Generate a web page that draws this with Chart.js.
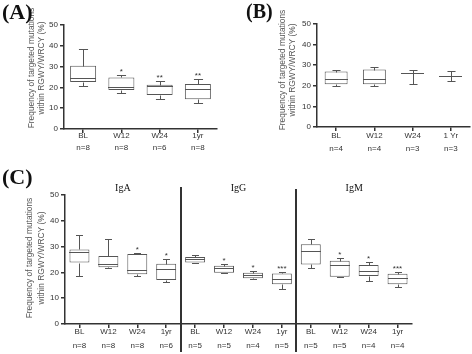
<!DOCTYPE html>
<html>
<head>
<meta charset="utf-8">
<script src="https://cdn.jsdelivr.net/npm/chart.js@4.4.1/dist/chart.umd.min.js"></script>
<style>
  body { margin: 0; background: #fff; }
  #wrap { position: relative; width: 472px; height: 354px; overflow: hidden; background: #fff; }
  #wrap canvas { position: absolute; }
  .panel { position: absolute; font-family: "Liberation Serif", "Times New Roman", serif; font-weight: bold; color: #111; line-height: 1; }
</style>
</head>
<body>
<div id="wrap">
  <canvas id="chart-a" width="240" height="175" style="left:0;top:0"></canvas>
  <canvas id="chart-b" width="232" height="175" style="left:240px;top:0"></canvas>
  <canvas id="chart-c" width="472" height="179" style="left:0;top:175px"></canvas>
  <div class="panel" style="left:2px;top:1px;font-size:22px">(A)</div>
  <div class="panel" style="left:246px;top:1px;font-size:20px">(B)</div>
  <div class="panel" style="left:2px;top:166px;font-size:22px">(C)</div>
</div>
<script>
// panel A
const timepointsA = ['BL', 'W12', 'W24', '1yr'];
const countsA = ['n=8', 'n=8', 'n=6', 'n=8'];
const minA = [20.8, 17.5, 14.6, 12.3];
const q1A = [22.6, 18.8, 16.3, 14.3];
const medianA = [24.4, 20.4, 20.7, 19.2];
const q3A = [30.4, 24.8, 21.3, 21.6];
const maxA = [38.5, 25.8, 22.9, 24.2];
const sigA = ['', '*', '**', '**'];

// panel B
const timepointsB = ['BL', 'W12', 'W24', '1 Yr'];
const countsB = ['n=4', 'n=4', 'n=3', 'n=3'];
const minB = [20.1, 20.1, 21.1, 22.1];
const q1B = [20.8, 20.8, 26.4, 25.0];
const medianB = [23.1, 23.4, 26.4, 25.0];
const q3B = [26.9, 27.9, 26.4, 25.0];
const maxB = [27.9, 28.9, 27.9, 27.3];
const sigB = ['', '', '', ''];

// panel C
const isotypesC = ['IgA', 'IgG', 'IgM'];
const timepointsC = ['BL', 'W12', 'W24', '1yr', 'BL', 'W12', 'W24', '1yr', 'BL', 'W12', 'W24', '1yr'];
const countsC = ['n=8', 'n=8', 'n=8', 'n=6', 'n=5', 'n=5', 'n=4', 'n=5', 'n=5', 'n=5', 'n=4', 'n=4'];
const minC = [18.6, 21.8, 18.7, 16.4, 23.5, 19.8, 17.4, 13.4, 21.6, 18.1, 16.7, 14.5];
const q1C = [23.8, 22.0, 19.3, 17.1, 23.8, 19.9, 17.7, 15.4, 23.1, 18.3, 18.6, 15.4];
const medianC = [27.8, 23.3, 20.8, 21.2, 25.1, 21.6, 19.0, 17.6, 28.3, 22.7, 20.7, 17.7];
const q3C = [28.9, 26.4, 27.1, 23.4, 26.0, 22.6, 19.9, 19.6, 30.9, 24.5, 22.9, 19.5];
const maxC = [34.5, 32.8, 27.6, 25.2, 26.7, 23.1, 20.4, 20.0, 32.9, 25.7, 24.2, 20.0];
const sigC = ['', '', '*', '*', '', '*', '*', '***', '', '*', '*', '***'];

const yTicks = [0, 10, 20, 30, 40, 50];
const yTitle = ['Frequency of targeted mutations', 'within RGWY/WRCY (%)'];

Chart.defaults.font.family = '"Liberation Sans", Arial, sans-serif';
Chart.defaults.color = '#333';

const LINE = '#555';
const AXIS = '#333';

// whiskers, caps, medians and significance stars on top of the floating-bar boxes
const boxWhiskers = {
  id: 'boxWhiskers',
  afterDatasetsDraw(chart, args, opts) {
    const { ctx } = chart;
    const y = chart.scales.y;
    const bars = chart.getDatasetMeta(0).data;
    ctx.save();
    ctx.strokeStyle = LINE;
    ctx.lineWidth = 1;
    bars.forEach((bar, i) => {
      const cx = Math.round(bar.x) + 0.5;
      const half = bar.width / 2;
      const cap = half * 0.35;
      const px = (v) => Math.round(y.getPixelForValue(v)) + 0.5;
      const yMin = px(opts.min[i]);
      const yMax = px(opts.max[i]);
      const yQ1 = px(opts.q1[i]);
      const yQ3 = px(opts.q3[i]);
      const yMed = px(opts.median[i]);
      ctx.beginPath();
      ctx.moveTo(cx, yQ3);
      ctx.lineTo(cx, yMax);
      ctx.moveTo(cx, yQ1);
      ctx.lineTo(cx, yMin);
      ctx.moveTo(cx - cap, yMax);
      ctx.lineTo(cx + cap, yMax);
      ctx.moveTo(cx - cap, yMin);
      ctx.lineTo(cx + cap, yMin);
      ctx.moveTo(Math.round(bar.x - half), yMed);
      ctx.lineTo(Math.round(bar.x + half), yMed);
      ctx.stroke();
      if (opts.sig[i]) {
        ctx.fillStyle = AXIS;
        ctx.font = '8px "Liberation Sans", Arial, sans-serif';
        ctx.textAlign = 'center';
        ctx.textBaseline = 'alphabetic';
        ctx.fillText(opts.sig[i], bar.x, yMax - 2);
      }
    });
    ctx.restore();
  },
};

// rotated two-line y title
const sideTitle = {
  id: 'sideTitle',
  afterDraw(chart, args, opts) {
    const { ctx } = chart;
    ctx.save();
    ctx.translate(opts.x, opts.y);
    ctx.rotate(-Math.PI / 2);
    ctx.fillStyle = '#555';
    ctx.font = opts.font;
    ctx.textAlign = 'center';
    ctx.textBaseline = 'middle';
    opts.lines.forEach((line, i) => ctx.fillText(line, 0, i * opts.lineHeight));
    ctx.restore();
  },
};

// isotype separators and headings for panel C
const groupDividers = {
  id: 'groupDividers',
  afterDraw(chart, args, opts) {
    const { ctx } = chart;
    const x = chart.scales.x;
    const size = opts.size;
    ctx.save();
    ctx.strokeStyle = AXIS;
    ctx.lineWidth = 2;
    opts.groups.forEach((name, g) => {
      const first = g * size;
      const last = first + size - 1;
      const center = (x.getPixelForValue(first) + x.getPixelForValue(last)) / 2;
      ctx.fillStyle = '#111';
      ctx.font = '10px "Liberation Serif", "Times New Roman", serif';
      ctx.textAlign = 'center';
      ctx.textBaseline = 'middle';
      ctx.fillText(name, center, opts.titleY);
      if (g > 0) {
        const sx = Math.round((x.getPixelForValue(first - 1) + x.getPixelForValue(first)) / 2);
        ctx.beginPath();
        ctx.moveTo(sx, opts.top[g - 1]);
        ctx.lineTo(sx, chart.height - 2);
        ctx.stroke();
      }
    });
    ctx.restore();
  },
};

function makeBoxChart(canvasId, cfg) {
  const labels = cfg.timepoints.map((t, i) => [t, cfg.counts[i]]);
  return new Chart(document.getElementById(canvasId), {
    type: 'bar',
    data: {
      labels,
      datasets: [
        {
          data: cfg.q1.map((v, i) => [v, cfg.q3[i]]),
          backgroundColor: '#fff',
          borderColor: LINE,
          borderWidth: 1,
          borderSkipped: false,
          categoryPercentage: 1,
          barPercentage: cfg.barPercentage,
        },
      ],
    },
    options: {
      responsive: false,
      animation: false,
      layout: { padding: cfg.padding },
      plugins: {
        legend: { display: false },
        tooltip: { enabled: false },
        boxWhiskers: { min: cfg.min, q1: cfg.q1, median: cfg.median, q3: cfg.q3, max: cfg.max, sig: cfg.sig },
        sideTitle: cfg.title,
        groupDividers: cfg.dividers || false,
      },
      scales: {
        x: {
          grid: { drawOnChartArea: false, offset: false, tickLength: 4, color: AXIS, lineWidth: 1.5 },
          border: { color: AXIS, width: 1.5 },
          ticks: {
            autoSkip: false,
            maxRotation: 0,
            color: '#333',
            padding: cfg.tickPadding,
            font: { size: 8, lineHeight: cfg.lineHeight },
          },
          afterFit: (scale) => { scale.height = cfg.xHeight; },
        },
        y: {
          min: 0,
          max: 50,
          afterBuildTicks: (scale) => { scale.ticks = yTicks.map((value) => ({ value })); },
          grid: { drawOnChartArea: false, tickLength: 4, color: AXIS, lineWidth: 1.5 },
          border: { color: AXIS, width: 1.5 },
          ticks: { color: '#333', padding: 2, font: { size: 8 } },
          afterFit: (scale) => { scale.width = cfg.yWidth; },
        },
      },
    },
    plugins: cfg.dividers ? [boxWhiskers, sideTitle, groupDividers] : [boxWhiskers, sideTitle],
  });
}

makeBoxChart('chart-a', {
  timepoints: timepointsA, counts: countsA,
  min: minA, q1: q1A, median: medianA, q3: q3A, max: maxA, sig: sigA,
  barPercentage: 0.68,
  padding: { left: 0, top: 25, right: 23, bottom: 0 },
  yWidth: 64, xHeight: 46, tickPadding: -2.5, lineHeight: 1.4,
  title: { x: 32, y: 68, lineHeight: 10, font: '8.4px "Liberation Sans", Arial, sans-serif', lines: yTitle },
});

makeBoxChart('chart-b', {
  timepoints: timepointsB, counts: countsB,
  min: minB, q1: q1B, median: medianB, q3: q3B, max: maxB, sig: sigB,
  barPercentage: 0.6,
  padding: { left: 0, top: 24, right: 2, bottom: 0 },
  yWidth: 77, xHeight: 48, tickPadding: -1, lineHeight: 1.55,
  title: { x: 43, y: 70, lineHeight: 9.5, font: '8.4px "Liberation Sans", Arial, sans-serif', lines: yTitle },
});

makeBoxChart('chart-c', {
  timepoints: timepointsC, counts: countsC,
  min: minC, q1: q1C, median: medianC, q3: q3C, max: maxC, sig: sigC,
  barPercentage: 0.69,
  padding: { left: 0, top: 20, right: 60, bottom: 0 },
  yWidth: 65, xHeight: 30, tickPadding: -3, lineHeight: 1.75,
  title: { x: 30, y: 83, lineHeight: 11.5, font: '8.4px "Liberation Sans", Arial, sans-serif', lines: yTitle },
  dividers: { groups: isotypesC, size: 4, titleY: 13, top: [12, 14] },
});
</script>
</body>
</html>
